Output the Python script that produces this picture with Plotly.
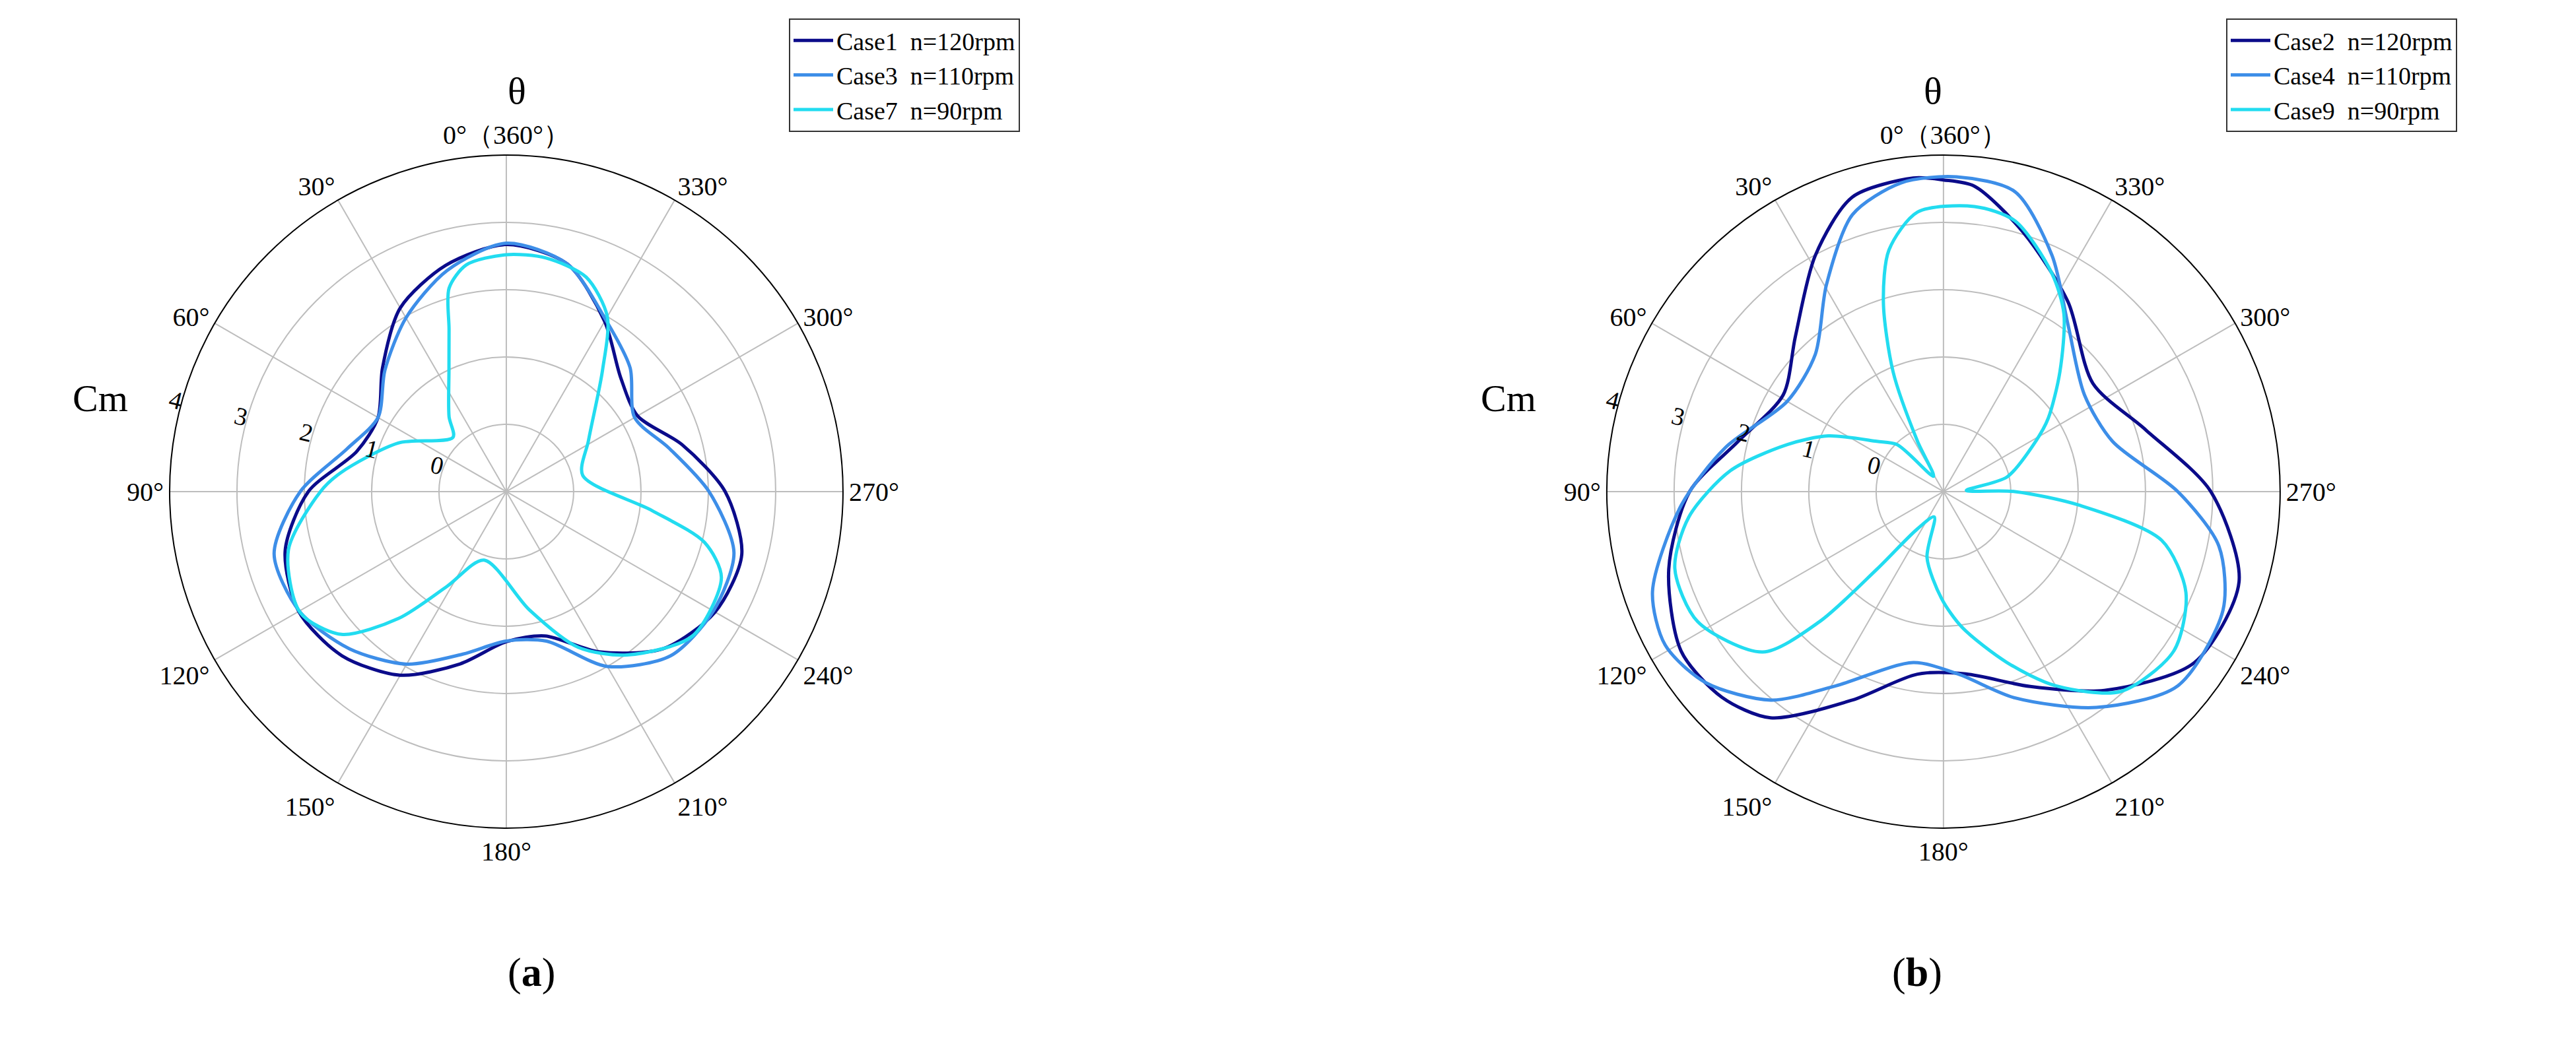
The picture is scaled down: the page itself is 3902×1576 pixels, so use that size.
import plotly.graph_objects as go

# ---------- data ----------
theta15 = [0, 15, 30, 45, 60, 75, 90, 105, 120, 135, 150, 165, 180, 195, 210, 225, 240, 255, 270, 285, 300, 315, 330, 345]
case1 = [2.67, 2.48, 2.15, 1.6, 1.2, 1.3, 1.94, 2.4, 2.56, 2.45, 2.15, 1.65, 1.23, 1.22, 1.75, 2.3, 2.58, 2.62, 2.25, 1.7, 1.25, 1.4, 1.92, 2.5]
case3 = [2.69, 2.4, 1.98, 1.55, 1.2, 1.45, 2.06, 2.57, 2.55, 2.3, 1.96, 1.5, 1.22, 1.3, 2.0, 2.45, 2.55, 2.5, 2.01, 1.5, 1.2, 1.6, 1.95, 2.5]
case7_t = [0, 10, 15.7, 19.4, 25.2, 37.4, 44.5, 65.8, 83.4, 90, 105, 120.4, 130.9, 139.7, 148, 162, 191, 204.8, 216.5, 232.2, 248.2, 255.6, 262.6, 282, 302, 321.6, 330, 339.6, 350.4]
case7_r = [2.52, 2.42, 2.14, 1.56, 1.0, 0.4, 0.13, 0.76, 1.47, 1.76, 2.35, 2.55, 2.24, 1.47, 0.66, 0.07, 0.79, 1.55, 2.02, 2.5, 2.44, 2.04, 1.18, 0.16, 0.44, 1.3, 2.0, 2.4, 2.52]

case2_t = [0, 5.5, 17.2, 28.5, 43.8, 58.9, 76.3, 90, 105.8, 121.3, 132.9, 142.6, 156.4, 171.9, 187, 204, 219, 235.7, 253, 270, 287, 305.9, 326.7, 342.9, 354.2]
case2_r = [3.63, 3.68, 3.58, 2.99, 2.18, 1.78, 2.14, 2.77, 3.24, 3.56, 3.49, 3.23, 2.38, 1.74, 1.73, 2.17, 2.8, 3.51, 3.59, 2.97, 2.14, 1.74, 2.37, 3.03, 3.56]
case4_t = [7.8, 18.2, 29.5, 43, 60, 78.5, 93, 109, 118.9, 128.8, 140.4, 151, 170, 184.6, 199, 215.3, 230.3, 247, 258.8, 270, 286.5, 304.5, 323.2, 335.3, 346.6, 357.6]
case4_r = [3.63, 3.33, 2.53, 1.79, 1.68, 2.3, 2.9, 3.57, 3.72, 3.53, 3.02, 2.3, 1.58, 1.72, 2.24, 2.93, 3.52, 3.51, 3.17, 2.48, 1.62, 1.54, 2.09, 2.86, 3.58, 3.68]
case9_t = [5.3, 12.7, 17.6, 22.8, 27.3, 33, 44.6, 53, 64.2, 73.2, 84.4, 95.7, 106, 117.9, 131.6, 136.4, 139.4, 145, 160, 166, 179, 187.9, 200.4, 210, 221.6, 235.3, 247.4, 257.4, 264.2, 270, 273, 283, 298.6, 305, 315.8, 325.9, 333.6, 345.2, 353.8]
case9_r = [3.17, 2.68, 1.95, 0.93, -0.16, -0.73, -0.02, 0.24, 0.9, 1.42, 2.18, 2.8, 3.15, 3.13, 2.59, 1.67, 0.52, -0.32, -0.6, 0.01, 0.59, 1.04, 1.71, 2.33, 2.97, 3.16, 2.9, 2.32, 1.04, 0.06, -0.66, -0.03, 0.56, 0.9, 1.48, 2.19, 2.62, 3.16, 3.26]

names_a = ["Case1  n=120rpm", "Case3  n=110rpm", "Case7  n=90rpm"]
names_b = ["Case2  n=120rpm", "Case4  n=110rpm", "Case9  n=90rpm"]
colors = ["#0b0b8a", "#3d8ee8", "#22dcf0"]

ang_ticks = list(range(0, 360, 30))
ang_text = ["0°（360°）"] + [f"{a}°" for a in ang_ticks[1:]]
r_ticks = [0, 1, 2, 3, 4]

FONT = "Liberation Serif, Times New Roman, serif"

def closed(t, r):
    return list(t) + [t[0]], list(r) + [r[0]]

fig = go.Figure()
series_a = [(theta15, case1), (theta15, case3), (case7_t, case7_r)]
series_b = [(case2_t, case2_r), (case4_t, case4_r), (case9_t, case9_r)]
for (t, r), nm, c in zip(series_a, names_a, colors):
    tt, rr = closed(t, r)
    fig.add_trace(go.Scatterpolar(theta=tt, r=rr, mode="lines", name=nm, subplot="polar",
                                  legend="legend", line=dict(color=c, width=5, shape="spline", smoothing=0.8)))
for (t, r), nm, c in zip(series_b, names_b, colors):
    tt, rr = closed(t, r)
    fig.add_trace(go.Scatterpolar(theta=tt, r=rr, mode="lines", name=nm, subplot="polar2",
                                  legend="legend2", line=dict(color=c, width=5, shape="spline", smoothing=0.8)))

def polar_cfg(x0, x1):
    return dict(
        domain=dict(x=[x0, x1], y=[0.2088, 0.856]),
        bgcolor="white",
        angularaxis=dict(rotation=90, direction="counterclockwise", tickvals=ang_ticks, ticktext=ang_text,
                         showline=True, linecolor="black", linewidth=2, gridcolor="#bdbdbd", gridwidth=2,
                         ticks="", tickfont=dict(family=FONT, size=40, color="black")),
        radialaxis=dict(range=[-1, 4], tickvals=r_ticks, showline=False, ticks="", angle=166, tickangle=180,
                        gridcolor="#bdbdbd", gridwidth=2, tickfont=dict(family=FONT, size=38, color="black")),
    )

leg_common = dict(bgcolor="white", bordercolor="#333", borderwidth=2,
                  font=dict(family=FONT, size=38, color="black"), xanchor="left", yanchor="top",
                  itemwidth=60, tracegroupgap=0)

ann_font = dict(family=FONT, size=58, color="black")
fig.update_layout(
    width=3902, height=1576, paper_bgcolor="white", margin=dict(l=0, r=0, t=0, b=0),
    polar=polar_cfg(0.0638, 0.3252), polar2=polar_cfg(0.6217, 0.8831),
    legend=dict(x=1187/3902, y=1-20/1576, **leg_common),
    legend2=dict(x=3364/3902, y=1-20/1576, **leg_common),
    annotations=[
        dict(text="θ", x=759/3902, y=1-95/1576, xref="paper", yref="paper", showarrow=False, font=ann_font),
        dict(text="Cm", x=100/3902, y=1-595/1576, xref="paper", yref="paper", showarrow=False, font=ann_font),
        dict(text="(<b>a</b>)", x=759/3902, y=1-1502/1576, xref="paper", yref="paper", showarrow=False, font=dict(family=FONT, size=62, color="black")),
        dict(text="θ", x=2936/3902, y=1-95/1576, xref="paper", yref="paper", showarrow=False, font=ann_font),
        dict(text="Cm", x=2277/3902, y=1-595/1576, xref="paper", yref="paper", showarrow=False, font=ann_font),
        dict(text="(<b>b</b>)", x=2936/3902, y=1-1502/1576, xref="paper", yref="paper", showarrow=False, font=dict(family=FONT, size=62, color="black")),
    ],
)
fig.write_html("out.html")
